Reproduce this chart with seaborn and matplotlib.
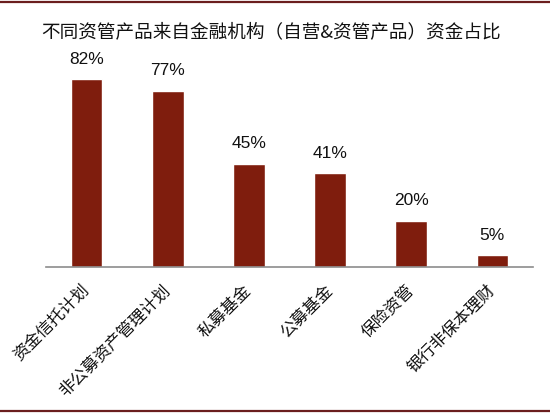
import matplotlib
matplotlib.use("Agg")
import matplotlib.pyplot as plt
import seaborn as sns
import pandas as pd
from matplotlib.lines import Line2D
from matplotlib.ticker import FixedLocator

categories = ["资金信托计划", "非公募资产管理计划", "私募基金", "公募基金", "保险资管", "银行非保本理财"]
shares = [82, 77, 45, 41, 20, 5]
title = "不同资管产品来自金融机构（自营&资管产品）资金占比"

sns.set_style("white")
plt.rcParams['font.family'] = ['Noto Sans CJK SC', 'DejaVu Sans']

df = pd.DataFrame({"product": categories, "share": shares})

fig = plt.figure(figsize=(5.5, 4.16), dpi=100)
ax = fig.add_axes([0.0836, 0.359, 0.8854, 0.549])

sns.barplot(data=df, x="product", y="share", color="#7F1D0D", width=0.39,
            saturation=1, ax=ax)

ax.bar_label(ax.containers[0], labels=[f"{v}%" for v in shares], padding=9,
             fontsize=12.5, family="Liberation Sans", color="#111111")

ax.set_xlim(-0.5, len(categories) - 0.5)
ax.set_ylim(0, 100)
ax.set_xlabel("")
ax.set_ylabel("")
ax.set_yticks([])
for s in ["top", "right", "left"]:
    ax.spines[s].set_visible(False)
ax.spines["bottom"].set_color("#8c8c8c")
ax.spines["bottom"].set_linewidth(1.2)

ax.xaxis.set_minor_locator(FixedLocator([i - 0.5 for i in range(len(categories) + 1)]))
ax.tick_params(axis="x", which="minor", length=4, width=1, color="#8c8c8c", direction="out")
ax.tick_params(axis="x", which="major", length=0, pad=15)
ax.set_xticks(range(len(categories)))
ax.set_xticklabels(categories, rotation=45, ha="right", va="center",
                   rotation_mode="anchor", fontsize=12, color="#111111")

fig.text(0.4927, 0.923, title, ha="center", va="center", fontsize=13.4, color="#111111")

fig.add_artist(Line2D([0, 1], [0.994, 0.994], color="#6B1E1E", linewidth=1.6))
fig.add_artist(Line2D([0, 1], [0.011, 0.011], color="#6B1E1E", linewidth=1.6))

fig.savefig("out.png", dpi=100)
